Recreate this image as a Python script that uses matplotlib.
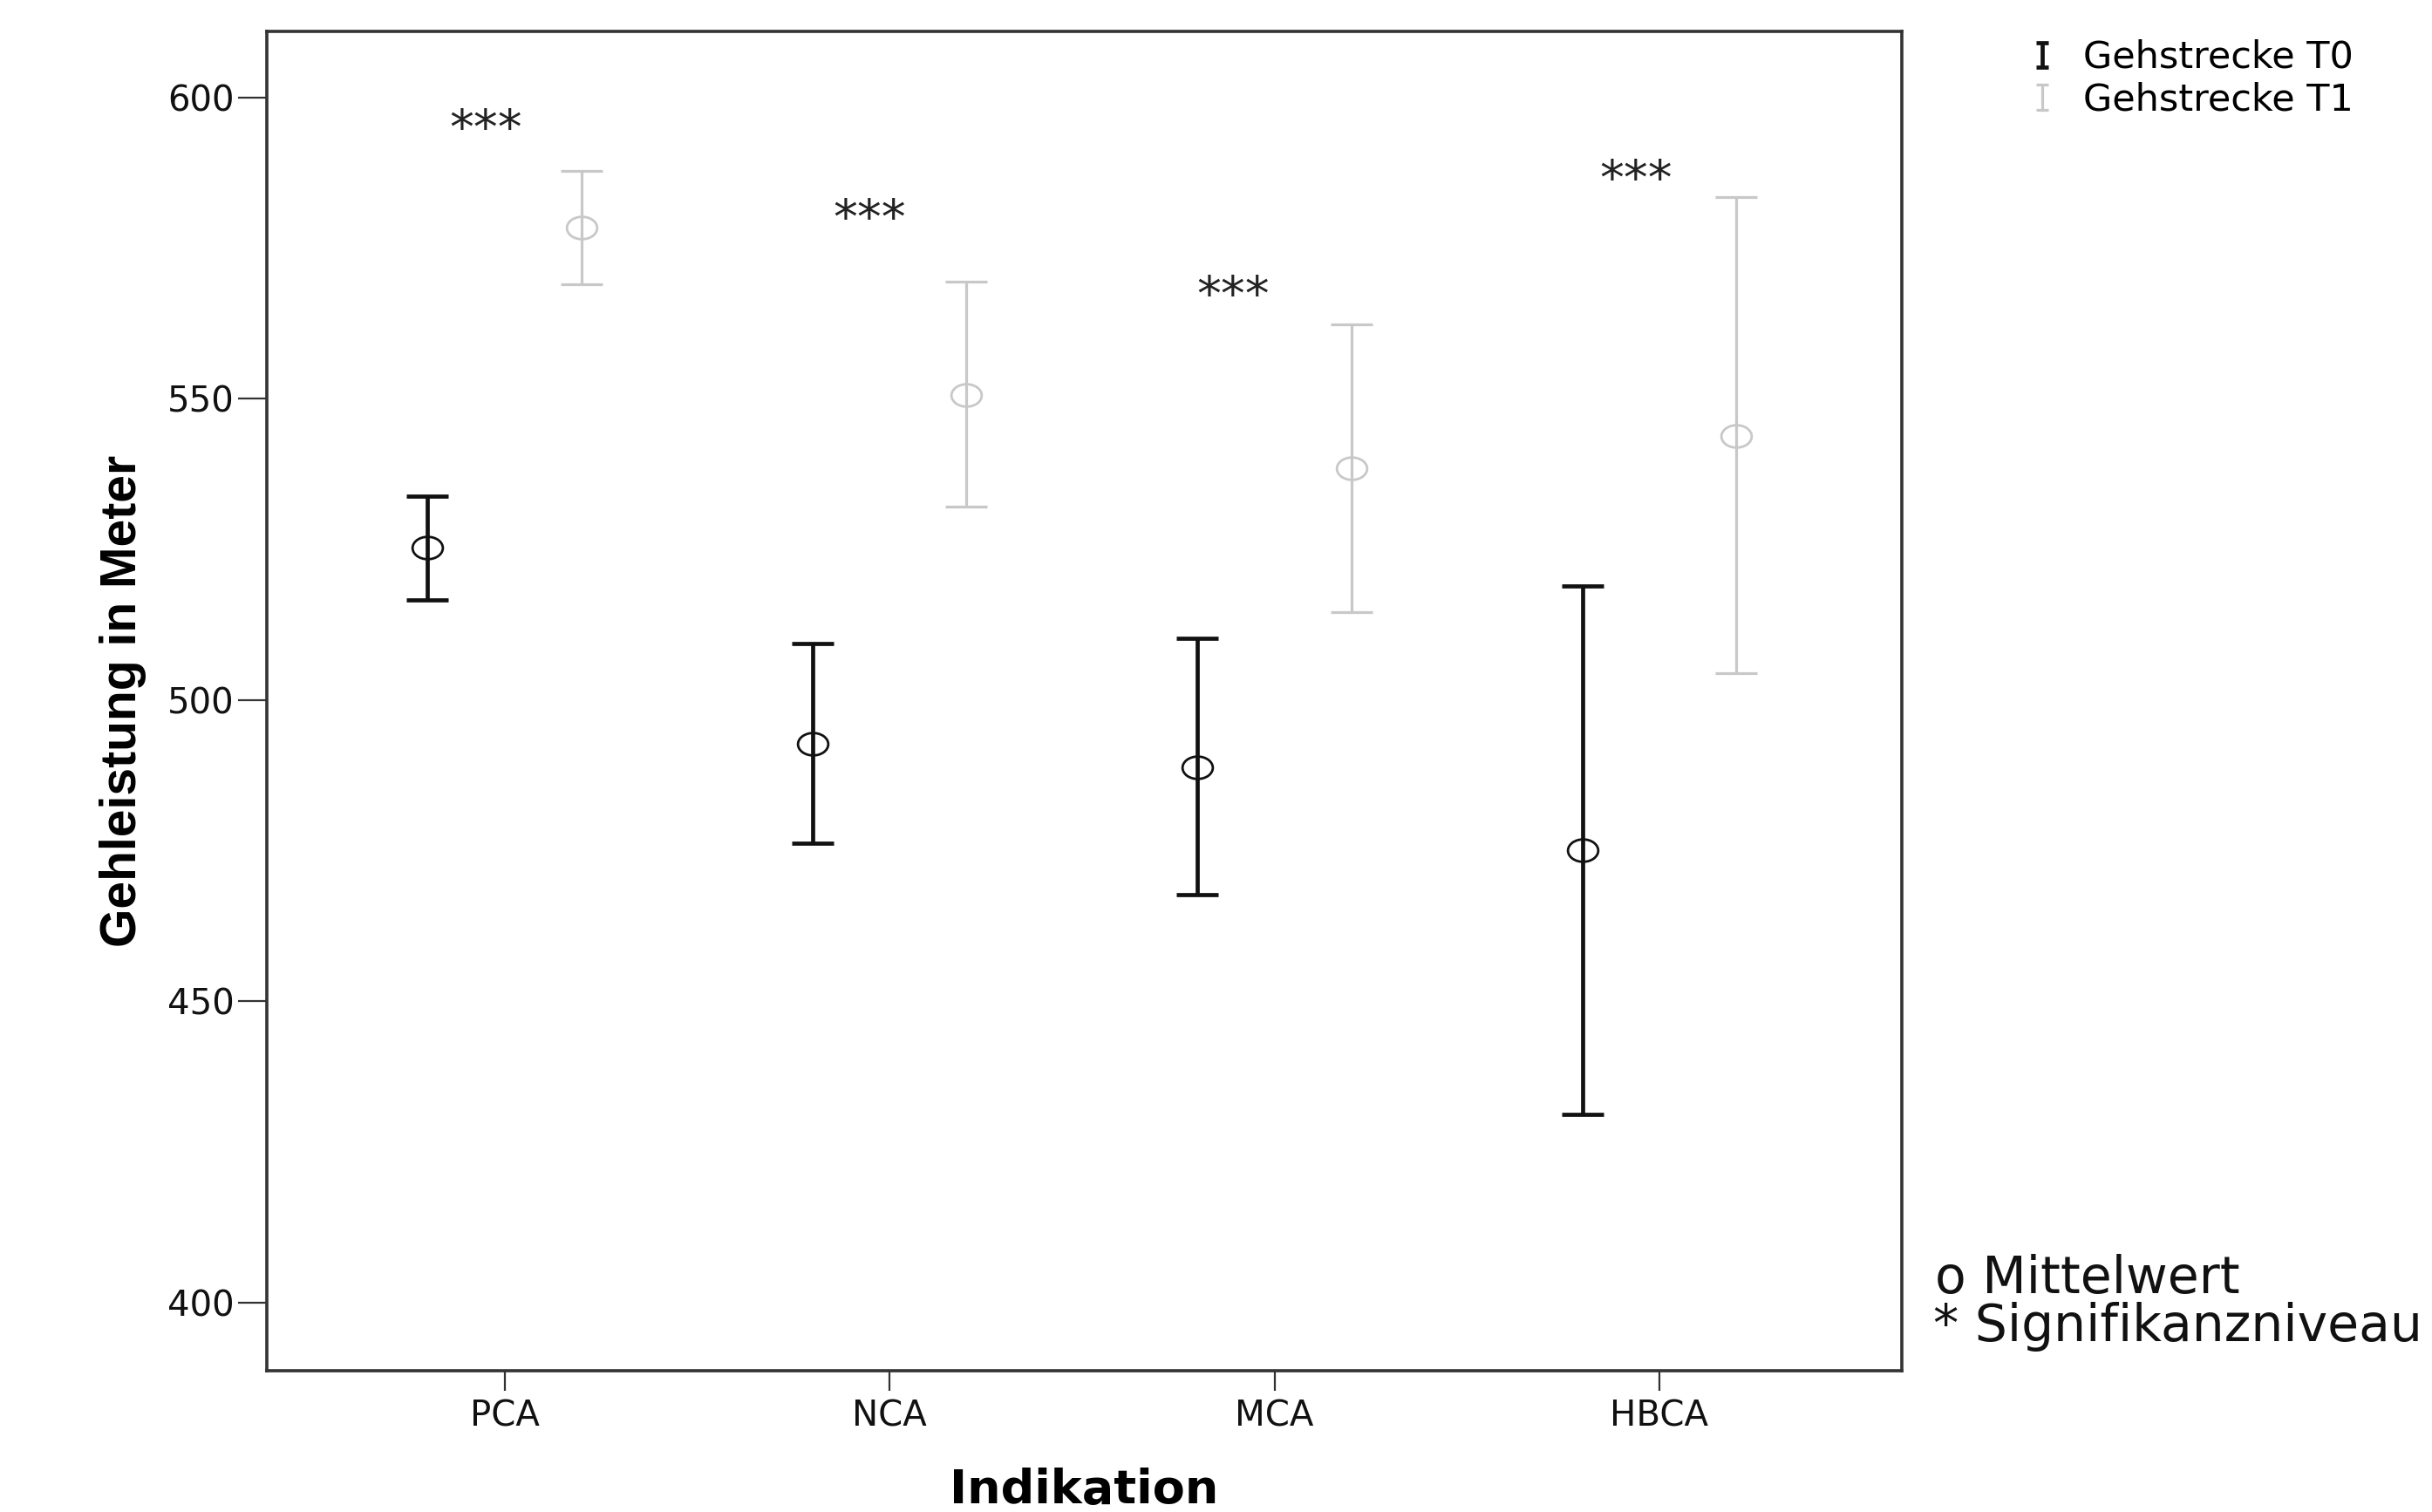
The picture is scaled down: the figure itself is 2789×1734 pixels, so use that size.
import matplotlib
matplotlib.use("Agg")
import matplotlib.pyplot as plt
import numpy as np
from matplotlib.path import Path
from matplotlib.transforms import Affine2D
from matplotlib.legend_handler import HandlerErrorbar
from matplotlib.lines import Line2D

# ---------------- data ----------------
categories = ["PCA", "NCA", "MCA", "HBCA"]
t0_mean = [525.3, 492.7, 488.8, 475.1]
t0_low = [516.6, 476.2, 467.7, 431.2]
t0_high = [533.9, 509.4, 510.2, 518.9]
t1_mean = [578.4, 550.6, 538.5, 543.9]
t1_low = [569.1, 532.1, 514.6, 504.5]
t1_high = [587.9, 569.4, 562.4, 583.5]
sig_labels = ["***", "***", "***", "***"]
sig_y = [596.4, 581.5, 568.8, 588.1]
sig_dx = [-0.049, -0.052, -0.107, -0.061]
series_labels = ["Gehstrecke T0", "Gehstrecke T1"]
yticks = [400, 450, 500, 550, 600]

W, H = 2789, 1734
fig = plt.figure(figsize=(W / 100, H / 100), dpi=100)
ax = fig.add_axes([306 / W, 1 - 1572 / H, (2181 - 306) / W, (1572 - 35.6) / H])

x = np.arange(len(categories))
off = 0.2
c0 = "#111111"
c1 = "#c8c8c8"

ellipse = Path.unit_circle().transformed(Affine2D().scale(1.0, 0.74))

for xs, mean, lo, hi, col, lw, lab in [
    (x - off, t0_mean, t0_low, t0_high, c0, 3.4, series_labels[0]),
    (x + off, t1_mean, t1_low, t1_high, c1, 2.3, series_labels[1]),
]:
    mean = np.array(mean)
    yerr = np.vstack([mean - np.array(lo), np.array(hi) - mean])
    ax.errorbar(xs, mean, yerr=yerr, fmt="none", ecolor=col, elinewidth=lw,
                capsize=17, capthick=lw, label=lab, zorder=2)
    ax.plot(xs, mean, linestyle="none", marker=ellipse, markersize=25,
            markerfacecolor="none", markeredgecolor=col, markeredgewidth=2.0,
            zorder=3)

for xi, lab, yv, dx in zip(x, sig_labels, sig_y, sig_dx):
    ax.annotate(lab, xy=(xi + dx, yv), xytext=(0, -20.5), textcoords="offset points",
                ha="center", va="baseline", fontsize=40, color="#222222")

ax.set_xlim(-0.618, 3.63)
ax.set_ylim(388.67, 611.07)
ax.set_xticks(x)
ax.set_xticklabels(categories, fontsize=29)
ax.set_yticks(yticks)
ax.set_yticklabels([str(v) for v in yticks], fontsize=29)
ax.tick_params(axis="y", length=24, width=1.6, pad=3, colors="#333333", labelcolor="#111111")
ax.tick_params(axis="x", length=16.5, width=1.6, pad=7, colors="#333333", labelcolor="#111111")
for s in ax.spines.values():
    s.set_linewidth(2.6)
    s.set_color("#333333")

ax.set_xlabel("Indikation", fontsize=39, fontweight="bold", va="top")
ax.xaxis.set_label_coords(0.5, -0.072)
ax.set_ylabel("Gehleistung in Meter", fontsize=41, fontweight="bold",
              family=["Liberation Sans", "DejaVu Sans"])
ax.yaxis.set_label_coords(-0.0736, 0.5)


def upd(legend_handle, orig_handle):
    legend_handle.update_from(orig_handle)
    if isinstance(legend_handle, Line2D):
        legend_handle.set_markersize(10)


handles, labels = ax.get_legend_handles_labels()
fig.legend(handles, labels, loc="upper left", bbox_to_anchor=(2333 / W, 1 - 45 / H),
           frameon=False, fontsize=31, handlelength=0.4, handletextpad=0.9,
           labelspacing=0.15, borderpad=0, borderaxespad=0,
           handler_map={type(handles[0]): HandlerErrorbar(yerr_size=0.33, numpoints=1, update_func=upd)})

fig.text(2219 / W, 1 - 1483 / H, "o Mittelwert", fontsize=42, va="baseline", ha="left", color="#111111")
fig.text(2217 / W, 1 - 1538 / H, "* Signifikanzniveau", fontsize=42, va="baseline", ha="left", color="#111111")

fig.savefig("out.png", dpi=100)
